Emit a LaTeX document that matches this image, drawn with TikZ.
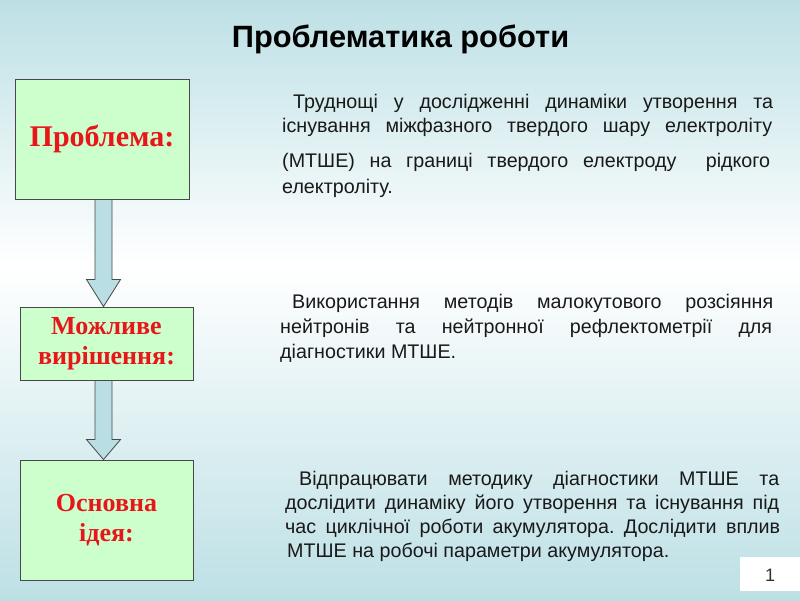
\documentclass[tikz,border=0pt]{standalone}
\usepackage{fontspec}
\usetikzlibrary{calc}
\setmainfont{Liberation Sans}
\newfontfamily\bodyfont{Liberation Sans}
\newfontfamily\boxfont{Liberation Serif}
\frenchspacing
\definecolor{bgteal}{RGB}{189,224,229}
\definecolor{boxgreen}{RGB}{204,255,204}
\definecolor{boxline}{RGB}{72,72,72}
\definecolor{arrowfill}{RGB}{185,222,228}
\definecolor{labelred}{RGB}{232,22,26}
\definecolor{bodytext}{RGB}{25,25,25}
\tikzset{
  greenbox/.style={draw=boxline, line width=0.9pt, fill=boxgreen, inner sep=0pt,
    align=center, text=labelred, font=\boxfont\bfseries},
  blockarrow/.style={draw=boxline, line width=0.8pt, fill=arrowfill, line join=miter},
  bodyline/.style={anchor=base west, inner sep=0pt, text=bodytext,
    font=\bodyfont\fontsize{19.7}{24}\selectfont},
  titletext/.style={anchor=base, inner sep=0pt, text=black,
    font=\bodyfont\bfseries\fontsize{30.8}{36}\selectfont},
}
\begin{document}
\begin{tikzpicture}[x=1pt,y=-1pt]
\useasboundingbox (0,0) rectangle (800,600);
% background
\shade[top color=bgteal, bottom color=white] (0,0) rectangle (800,265);
\shade[top color=white, bottom color=bgteal] (0,265) rectangle (800,600);

% title
\node[titletext] (title) at (400.5,47) {Проблематика роботи};

% block arrows
\coordinate (ax) at (103.5,0);
\coordinate (b1s) at (102,199);
\coordinate (b2n) at (106.5,307);
\coordinate (b2s) at (106.5,380);
\coordinate (b3n) at (106.5,460);

% boxes
\node[greenbox, minimum width=174pt, minimum height=120pt,
  font=\boxfont\bfseries\fontsize{30}{34}\selectfont] (b1) at (102,139) {Проблема:};
\node[greenbox, minimum width=173pt, minimum height=73pt,
  font=\boxfont\bfseries\fontsize{26}{30}\selectfont] (b2) at (106.5,343.5) {Можливе\\вирішення:};
\node[greenbox, minimum width=173pt, minimum height=120pt,
  font=\boxfont\bfseries\fontsize{26}{30}\selectfont] (b3) at (106.5,520) {Основна\\ідея:};

\draw[blockarrow] ($(b1.south -| ax)+(-8.5,0)$) -- ($(b1.south -| ax)+(8.5,0)$)
  -- ($(b2.north -| ax)+(8.5,-27)$) -- ($(b2.north -| ax)+(17,-27)$)
  -- (b2.north -| ax) -- ($(b2.north -| ax)+(-17,-27)$)
  -- ($(b2.north -| ax)+(-8.5,-27)$) -- cycle;
\draw[blockarrow] ($(b2.south -| ax)+(-8.5,0)$) -- ($(b2.south -| ax)+(8.5,0)$)
  -- ($(b3.north -| ax)+(8.5,-20)$) -- ($(b3.north -| ax)+(17,-20)$)
  -- (b3.north -| ax) -- ($(b3.north -| ax)+(-17,-20)$)
  -- ($(b3.north -| ax)+(-8.5,-20)$) -- cycle;

% paragraph 1
\node[bodyline] (p1a) at (293,108) {\makebox[480pt][s]{Труднощі у дослідженні динаміки утворення та}};
\node[bodyline] (p1b) at (282,132) {\makebox[490pt][s]{існування міжфазного твердого шару електроліту}};
\node[bodyline] (p1c) at (282,167) {\makebox[488pt][s]{(МТШЕ) на границі твердого електроду\ \ рідкого}};
\node[bodyline] (p1d) at (282,193) {електроліту.};

% paragraph 2
\node[bodyline] (p2a) at (292,308) {\makebox[481pt][s]{Використання методів малокутового розсіяння}};
\node[bodyline] (p2b) at (280,333) {\makebox[492pt][s]{нейтронів та нейтронної рефлектометрії для}};
\node[bodyline] (p2c) at (280,358) {діагностики МТШЕ.};

% paragraph 3
\node[bodyline] (p3a) at (299,485) {\makebox[480pt][s]{Відпрацювати методику діагностики МТШЕ та}};
\node[bodyline] (p3b) at (285,509) {\makebox[494pt][s]{дослідити динаміку його утворення та існування під}};
\node[bodyline] (p3c) at (285,533) {\makebox[495pt][s]{час циклічної роботи акумулятора. Дослідити вплив}};
\node[bodyline] (p3d) at (287,557) {МТШЕ на робочі параметри акумулятора.};

% page number
\fill[white] (740,557) rectangle (800,591);
\node[inner sep=0pt, text={rgb,255:red,50;green,50;blue,50},
  font=\bodyfont\fontsize{18}{20}\selectfont] (num) at (770,575) {1};
\end{tikzpicture}
\end{document}
